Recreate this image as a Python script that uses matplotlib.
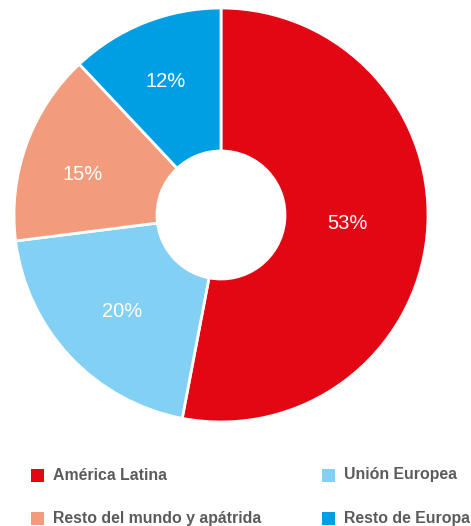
import numpy as np
import matplotlib.pyplot as plt
import matplotlib.patches as patches

regiones = ['América Latina', 'Unión Europea', 'Resto del mundo y apátrida', 'Resto de Europa']
porcentajes = [53, 20, 15, 12]
colores = ['#E30613', '#83D0F5', '#F29C7D', '#009FE3']

W, H = 471, 526
fig = plt.figure(figsize=(W / 100, H / 100), dpi=100)
ax = fig.add_axes([0, 0, 1, 1])
ax.set_xlim(0, W)
ax.set_ylim(H, 0)
ax.set_aspect('equal')
ax.axis('off')

cx, cy, r_out, r_in = 221, 215, 207, 64
wedges = []
start = 90
for val, col in zip(porcentajes, colores):
    ang = val / sum(porcentajes) * 360
    # y axis is inverted, so flip angles to keep clockwise order from the top
    w = patches.Wedge((cx, cy), r_out, -start, -(start - ang), width=r_out - r_in,
                      facecolor=col, edgecolor='white', linewidth=2)
    ax.add_patch(w)
    wedges.append((start - ang / 2))
    start -= ang

# label distance from centre for each slice, plus a small angular nudge
label_r = [127, 138, 144, 145]
label_da = [1.5, 1, 3.5, 1]
for val, mid, rr, da in zip(porcentajes, wedges, label_r, label_da):
    t = np.radians(mid + da)
    ax.text(cx + rr * np.cos(t), cy - rr * np.sin(t), f'{val}%', color='white',
            fontsize=14.5, ha='center', va='center', family='Liberation Sans')

# legend
leg_pos = [(31, 475), (322, 475), (31, 518), (322, 518)]
for (lx, ly), name, col in zip(leg_pos, regiones, colores):
    ax.add_patch(patches.Rectangle((lx, ly - 6.5), 13, 13, facecolor=col, edgecolor='none'))
    ax.text(lx + 22, ly, name, color='#5b5b5b', fontsize=11.4, fontweight='bold',
            ha='left', va='center', family='Liberation Sans')

fig.savefig('out.png', dpi=100)
